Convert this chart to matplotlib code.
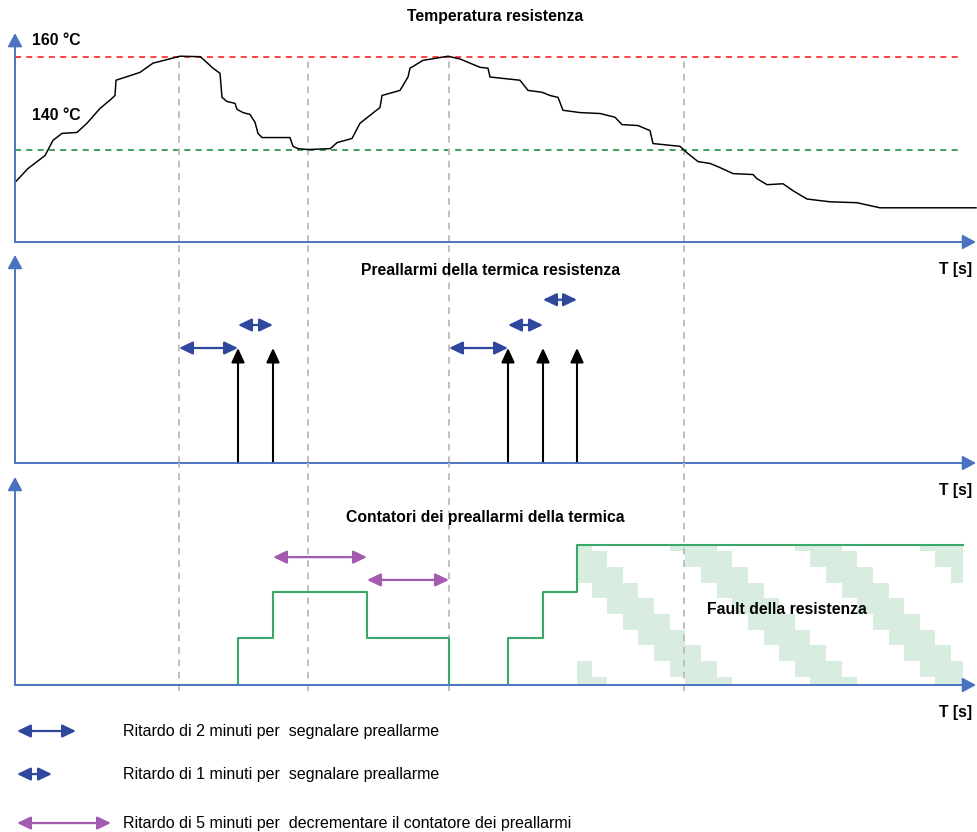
import numpy as np
import matplotlib.pyplot as plt
from matplotlib.colors import to_rgba
from matplotlib.patches import FancyArrowPatch, Rectangle

plt.rcParams['font.family'] = ['Liberation Sans', 'DejaVu Sans']

# asse dei tempi in unita' arbitrarie (T [s])
t_temp = [0, 13, 30, 38, 47, 62, 72, 85, 95, 100, 101, 125, 138, 158, 165, 185, 188, 198,
          205, 207, 212, 220, 222, 228, 235, 240, 243, 247, 275, 278, 283, 293, 315, 317,
          322, 337, 345, 355, 365, 367, 385, 393, 395, 408, 433, 445, 465, 473, 475, 505,
          513, 527, 535, 543, 548, 565, 585, 600, 607, 623, 635, 638, 665, 672, 683, 695,
          705, 718, 738, 742, 752, 768, 778, 792, 815, 842, 865, 961]
temp = [132.9, 135.9, 138.7, 142.0, 143.5, 143.7, 145.7, 148.9, 150.7, 151.7, 155.0, 156.7,
        158.7, 159.8, 160.2, 160.1, 159.6, 157.6, 156.5, 151.3, 150.4, 150.0, 148.7, 148.0,
        147.6, 145.9, 143.5, 142.6, 142.6, 140.7, 140.2, 140.0, 140.2, 140.5, 141.5, 142.4,
        145.7, 147.4, 149.1, 151.7, 152.8, 155.7, 157.6, 159.3, 160.2, 159.6, 157.8, 157.6,
        155.7, 155.0, 152.8, 152.4, 151.7, 151.3, 148.5, 148.0, 147.8, 147.0, 145.4, 145.2,
        144.1, 141.3, 140.7, 139.3, 137.4, 137.0, 136.1, 134.8, 134.6, 133.7, 132.4, 132.6,
        131.1, 129.3, 128.7, 128.5, 127.4, 127.4]
temp_high, temp_low = 160, 140

t_marks = [164, 293, 434, 669]
t_prealarm = [223, 258, 493, 528, 562]
delay_2min = [(164, 223, 1.0), (434, 493, 1.0)]
delay_1min = [(223, 258, 1.2), (493, 528, 1.2), (528, 562, 1.42)]
delay_5min = [(258, 352, 2.75), (352, 434, 2.26)]

t_count = [0, 223, 258, 352, 434, 493, 528, 562, 948]
count = [0, 1, 2, 1, 0, 1, 2, 3, 3]
fault_start, fault_end, fault_level = 562, 948, 3

# motivo a righe diagonali del riempimento "Fault"
fault_tile = [[1, 0, 0, 0, 0, 0, 1, 1],
              [1, 1, 0, 0, 0, 0, 0, 1],
              [1, 1, 1, 0, 0, 0, 0, 0],
              [0, 1, 1, 1, 0, 0, 0, 0],
              [0, 0, 1, 1, 1, 0, 0, 0],
              [0, 0, 0, 1, 1, 1, 0, 0],
              [0, 0, 0, 0, 1, 1, 1, 0],
              [0, 0, 0, 0, 0, 1, 1, 1]]

legend_labels = ["Ritardo di 2 minuti per  segnalare preallarme",
                 "Ritardo di 1 minuti per  segnalare preallarme",
                 "Ritardo di 5 minuti per  decrementare il contatore dei preallarmi"]
legend_len = [59, 35, 94]
legend_y = [0.765, 0.439, 0.068]

AX_BLUE = '#4a72c0'
DARK_BLUE = '#2f479c'
PURPLE = '#a35bb0'
GREEN = '#3aa86b'
HATCH_GREEN = '#d8ede0'
FS_B = 9.1
FS = 9.2

W, H, DPI = 977, 832, 125
fig = plt.figure(figsize=(W / DPI, H / DPI), dpi=DPI)


def box(top, bottom, left=15, right=977):
    return [left / W, 1 - bottom / H, (right - left) / W, (bottom - top) / H]


def arrow(ax, a, b, color, lw, hl, hw, style='-|>', z=3):
    ax.add_patch(FancyArrowPatch(a, b, arrowstyle=f'{style},head_length={hl},head_width={hw}',
                                 mutation_scale=10, color=color, lw=lw, shrinkA=0, shrinkB=0,
                                 clip_on=False, zorder=z))


ax1 = fig.add_axes(box(30, 242))
ax2 = fig.add_axes(box(242, 463), sharex=ax1)
ax3 = fig.add_axes(box(463, 685), sharex=ax1)
ax4 = fig.add_axes(box(700, 832), sharex=ax1)
for ax in (ax1, ax2, ax3, ax4):
    ax.set_axis_off()

dash = (0, (3.5, 3))

# pannello 1: temperatura
ax1.hlines([temp_high], 0, 947, color='#ff2a2a', lw=1.0, linestyles=[dash])
ax1.hlines([temp_low], 0, 947, color='#2a944a', lw=1.0, linestyles=[dash])
ax1.vlines(t_marks, 120, temp_high, color='#bdbdbd', lw=1.1, linestyles=[dash], clip_on=False)
ax1.plot(t_temp, temp, color='black', lw=0.85, zorder=2, solid_joinstyle='round')
arrow(ax1, (0, 120), (961, 120), AX_BLUE, 1.1, 0.65, 0.35)
arrow(ax1, (0, 120), (0, 165.2), AX_BLUE, 1.1, 0.65, 0.35)
ax1.text(17, 163.7, "160 °C", fontsize=FS_B, fontweight='bold', va='center')
ax1.text(17, 147.4, "140 °C", fontsize=FS_B, fontweight='bold', va='center')
fig.text(495 / W, 1 - 17 / H, "Temperatura resistenza", fontsize=FS_B, fontweight='bold',
         ha='center', va='center')

# pannello 2: preallarmi
ax2.vlines(t_marks, 0, 1.922, color='#bdbdbd', lw=1.1, linestyles=[dash], clip_on=False)
for t in t_prealarm:
    arrow(ax2, (t, 0), (t, 1), 'black', 1.2, 0.69, 0.32)
for a, b, y in delay_2min + delay_1min:
    arrow(ax2, (a, y), (b, y), DARK_BLUE, 1.3, 0.65, 0.31, style='<|-|>')
arrow(ax2, (0, 0), (961, 0), AX_BLUE, 1.1, 0.65, 0.35)
arrow(ax2, (0, 0), (0, 1.809), AX_BLUE, 1.1, 0.65, 0.35)
ax2.text(476, 1.67, "Preallarmi della termica resistenza", fontsize=FS_B, fontweight='bold',
         ha='center', va='center')

# pannello 3: contatore
cell_x, cell_y = 15.63, 15.63 / 46.5
tex = np.tile(np.array(fault_tile), (2, 4))[:10, :25]
rgba = np.zeros(tex.shape + (4,))
rgba[tex == 1] = to_rgba(HATCH_GREEN)
x0 = fault_start - 1
y_top = fault_level + 0.2
img = ax3.imshow(rgba, extent=(x0, x0 + 25 * cell_x, y_top - 10 * cell_y, y_top),
                 origin='upper', aspect='auto', interpolation='nearest', zorder=0.5)
clip = Rectangle((fault_start, 0), fault_end - fault_start, fault_level,
                 transform=ax3.transData, facecolor='none', edgecolor='none')
img.set_clip_path(clip)
ax3.vlines(t_marks, -0.12, 4.774, color='#bdbdbd', lw=1.1, linestyles=[dash], clip_on=False,
           zorder=1)
ax3.step(t_count, count, where='post', color=GREEN, lw=1.2, zorder=2)
for a, b, y in delay_5min:
    arrow(ax3, (a, y), (b, y), PURPLE, 1.3, 0.65, 0.31, style='<|-|>')
arrow(ax3, (0, 0), (961, 0), AX_BLUE, 1.1, 0.65, 0.35)
arrow(ax3, (0, 0), (0, 4.473), AX_BLUE, 1.1, 0.65, 0.35)
ax3.text(470, 3.61, "Contatori dei preallarmi della termica", fontsize=FS_B, fontweight='bold',
         ha='center', va='center')
ax3.text(772, 1.63, "Fault della resistenza", fontsize=FS_B, fontweight='bold',
         ha='center', va='center', zorder=4)

ax1.set_xlim(0, 962)
ax1.set_ylim(120, 165.87)
ax2.set_ylim(0, 1.922)
ax3.set_ylim(0, 4.774)
ax4.set_ylim(0, 1)

for ax in (ax1, ax2, ax3):
    y0 = ax.get_ylim()[0]
    ax.annotate("T [s]", xy=(957, y0), xytext=(0, -16), textcoords='offset points',
                fontsize=FS_B, fontweight='bold', ha='right', va='center', annotation_clip=False)

# legenda
colors = [DARK_BLUE, DARK_BLUE, PURPLE]
for lab, ln, y, c in zip(legend_labels, legend_len, legend_y, colors):
    arrow(ax4, (2, y), (2 + ln, y), c, 1.3, 0.65, 0.31, style='<|-|>')
    ax4.text(108, y, lab, fontsize=FS, va='center')

fig.savefig('out.png', dpi=DPI)
